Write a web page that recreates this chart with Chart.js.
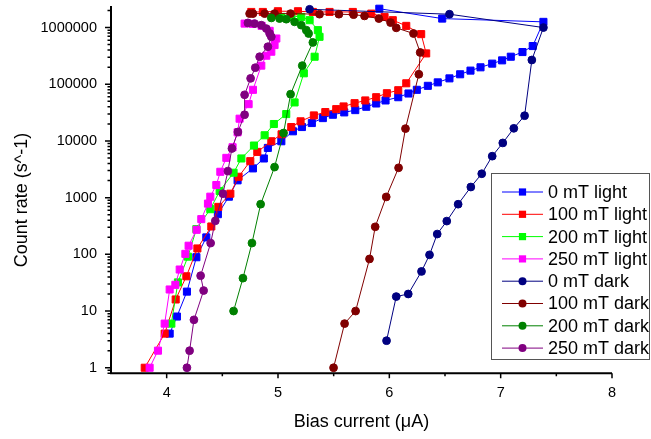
<!DOCTYPE html>
<html>
<head>
<meta charset="utf-8">
<script src="https://cdn.jsdelivr.net/npm/chart.js@4.4.0/dist/chart.umd.min.js"></script>
<style>
  body { margin: 0; background: #fff; }
  #wrap { width: 651px; height: 439px; }
</style>
</head>
<body>
<div id="wrap"><canvas id="mycanvas" width="651" height="439"></canvas></div>
<script>
// bias current (uA) and count rate (s^-1) for each curve
var light0X = [4.027, 4.092, 4.182, 4.267, 4.356, 4.46, 4.559, 4.637, 4.775, 4.873, 4.909, 5.03, 5.134, 5.215, 5.304, 5.403, 5.493, 5.595, 5.694, 5.793, 5.882, 5.966, 6.08, 6.172, 6.247, 6.346, 6.435, 6.54, 6.636, 6.729, 6.819, 6.924, 7.013, 7.091, 7.196, 7.288, 7.384, 6.475, 5.91];
var light0Y = [4, 8, 22, 89, 199, 511, 1040, 2020, 3280, 4910, 7540, 9880, 14800, 17600, 20700, 25300, 29000, 31900, 35000, 40100, 45800, 51800, 59100, 68700, 79800, 93800, 108000, 127000, 150000, 174000, 199000, 231000, 264000, 306000, 370000, 472000, 1260000, 1440000, 2150000];

var light100X = [3.803, 3.982, 4.081, 4.177, 4.276, 4.401, 4.464, 4.572, 4.646, 4.751, 4.814, 4.94, 5.032, 5.119, 5.203, 5.322, 5.425, 5.523, 5.589, 5.688, 5.784, 5.882, 5.978, 6.08, 6.152, 6.331, 6.286, 6.152, 6.031, 5.957, 5.838, 5.672, 5.463, 5.313, 5.179, 4.999, 4.864, 4.76];
var light100Y = [1, 4, 16, 41, 127, 310, 687, 1175, 2335, 4400, 6410, 9880, 13100, 17600, 22200, 28200, 32300, 36400, 40600, 46400, 51800, 59100, 69500, 78500, 104000, 350000, 766000, 1071000, 1349000, 1541000, 1761000, 1885000, 1885000, 1885000, 1940000, 1940000, 1885000, 1885000];

var light200X = [4.042, 4.101, 4.191, 4.267, 4.392, 4.476, 4.601, 4.671, 4.784, 4.88, 4.963, 5.074, 5.149, 5.232, 5.329, 5.373, 5.358, 5.284, 5.209, 5.119, 5.03];
var light200Y = [6, 32, 91, 279, 626, 1310, 2750, 4910, 8300, 12600, 19900, 29800, 47800, 156000, 306000, 687000, 900000, 1349000, 1541000, 1604000, 1541000];

var light250X = [3.847, 3.922, 3.982, 4.027, 4.078, 4.117, 4.168, 4.197, 4.269, 4.311, 4.371, 4.392, 4.446, 4.482, 4.536, 4.592, 4.637, 4.655, 4.736, 4.775, 4.85, 4.895, 4.94, 4.969, 4.985, 4.925, 4.853, 4.772, 4.70];
var light250Y = [1, 2, 6, 24, 29, 54, 102, 142, 271, 418, 785, 1040, 1670, 2860, 5030, 7750, 14200, 24700, 44600, 79800, 213000, 319000, 375000, 491000, 641000, 875000, 1071000, 1161000, 1175000];

var dark0X = [5.975, 6.062, 6.17, 6.289, 6.361, 6.43, 6.516, 6.618, 6.732, 6.83, 6.924, 7.019, 7.118, 7.215, 7.28, 7.384, 6.54, 5.284];
var dark0Y = [3, 18, 20, 50, 98, 228, 386, 766, 1540, 2640, 5390, 9230, 16700, 27900, 268000, 1000000, 1720000, 2100000];

var dark100X = [5.499, 5.598, 5.697, 5.822, 5.873, 5.972, 6.083, 6.145, 6.265, 6.277, 6.217, 6.062, 6.011, 5.906, 5.777, 5.679, 5.547, 5.373, 5.113, 4.969, 4.88, 4.775, 4.745];
var dark100Y = [1, 6, 10, 83, 306, 1030, 3360, 16500, 150000, 364000, 785000, 988000, 1224000, 1440000, 1604000, 1690000, 1720000, 1720000, 1761000, 1761000, 1761000, 1761000, 1761000];

var dark200X = [4.601, 4.685, 4.766, 4.844, 4.969, 5.05, 5.113, 5.218, 5.313, 5.275, 5.254, 5.209, 5.149, 5.074, 5.014, 4.94];
var dark200Y = [10, 38, 158, 766, 3460, 13800, 66800, 213000, 546000, 785000, 900000, 1102000, 1260000, 1404000, 1440000, 1479000];

var dark250X = [4.182, 4.206, 4.245, 4.332, 4.305, 4.395, 4.437, 4.505, 4.55, 4.586, 4.64, 4.70, 4.70, 4.754, 4.796, 4.835, 4.909, 4.94, 4.925, 4.895, 4.85, 4.79, 4.73];
var dark250Y = [1, 2, 7, 23, 42, 158, 390, 1175, 2940, 7360, 14400, 29000, 65200, 127000, 196000, 306000, 459000, 687000, 785000, 960000, 1102000, 1175000, 1208000];

var seriesNames = ['0 mT light', '100 mT light', '200 mT light', '250 mT light', '0 mT dark', '100 mT dark', '200 mT dark', '250 mT dark'];
var xTickValues = [4, 5, 6, 7, 8];
var yTickValues = [1, 10, 100, 1000, 10000, 100000, 1000000];

var allX = [light0X, light100X, light200X, light250X, dark0X, dark100X, dark200X, dark250X];
var allY = [light0Y, light100Y, light200Y, light250Y, dark0Y, dark100Y, dark200Y, dark250Y];
var colors = ['#0000ff', '#ff0000', '#00ff00', '#ff00ff', '#000080', '#800000', '#008000', '#800080'];
var markers = ['rect', 'rect', 'rect', 'rect', 'circle', 'circle', 'circle', 'circle'];

Chart.defaults.font.family = "'Liberation Sans', Arial, sans-serif";
Chart.defaults.color = '#000';

var datasets = [];
for (var i = 0; i < seriesNames.length; i++) {
  var pts = [];
  for (var j = 0; j < allX[i].length; j++) {
    pts.push({x: allX[i][j], y: allY[i][j]});
  }
  datasets.push({
    label: seriesNames[i],
    data: pts,
    showLine: true,
    borderColor: colors[i],
    backgroundColor: colors[i],
    pointBackgroundColor: colors[i],
    pointBorderColor: colors[i],
    borderWidth: 1,
    pointStyle: markers[i],
    pointRadius: markers[i] == 'rect' ? 5 : 3.9,
    pointBorderWidth: 1,
    tension: 0,
    clip: false,
    order: seriesNames.length - i
  });
}

function drawMarker(ctx, style, cx, cy, color) {
  ctx.fillStyle = color;
  if (style == 'rect') {
    ctx.fillRect(cx - 3.6, cy - 3.6, 7.2, 7.2);
  } else {
    ctx.beginPath();
    ctx.arc(cx, cy, 4, 0, Math.PI * 2);
    ctx.fill();
  }
}

// axes lines, minor ticks, y title and the boxed legend
var decor = {
  id: 'decor',
  afterDraw: function(chart) {
    var ctx = chart.ctx;
    var xs = chart.scales.x, ys = chart.scales.y, a = chart.chartArea;
    ctx.save();
    ctx.strokeStyle = '#000';
    ctx.lineWidth = 2;
    ctx.beginPath();
    ctx.moveTo(a.left, a.top);
    ctx.lineTo(a.left, a.bottom);
    ctx.lineTo(a.right, a.bottom);
    ctx.stroke();

    ctx.lineWidth = 1.5;
    ctx.beginPath();
    for (var v = 4; v <= 8.001; v += 0.5) {
      var px = xs.getPixelForValue(v);
      var len = (Math.abs(v - Math.round(v)) < 0.01) ? 5 : 3;
      ctx.moveTo(px, a.bottom);
      ctx.lineTo(px, a.bottom + len);
    }
    for (var d = 0.1; d <= 1e6; d *= 10) {
      for (var k = 1; k <= 9; k++) {
        var val = d * k;
        if (val < ys.min || val > ys.max) continue;
        var py = ys.getPixelForValue(val);
        var l = (k == 1) ? 6 : 3.5;
        ctx.moveTo(a.left, py);
        ctx.lineTo(a.left - l, py);
      }
    }
    ctx.stroke();

    ctx.fillStyle = '#000';
    ctx.font = "18px 'Liberation Sans', Arial, sans-serif";
    ctx.textAlign = 'center';
    ctx.textBaseline = 'middle';
    ctx.translate(21.7, 200);
    ctx.rotate(-Math.PI / 2);
    ctx.fillText('Count rate (s^-1)', 0, 0);
    ctx.restore();

    ctx.save();
    ctx.strokeStyle = '#555';
    ctx.lineWidth = 1;
    ctx.strokeRect(491.5, 173.5, 158, 186);
    ctx.font = "18px 'Liberation Sans', Arial, sans-serif";
    ctx.textBaseline = 'middle';
    ctx.textAlign = 'left';
    for (var n = 0; n < seriesNames.length; n++) {
      var y = 192 + n * 22.3;
      ctx.strokeStyle = colors[n];
      ctx.beginPath();
      ctx.moveTo(502, y);
      ctx.lineTo(543, y);
      ctx.stroke();
      drawMarker(ctx, markers[n], 522.5, y, colors[n]);
      ctx.fillStyle = '#000';
      ctx.fillText(seriesNames[n], 548, y + 1);
    }
    ctx.restore();
  }
};

var ctx = document.getElementById('mycanvas');
var chart = new Chart(ctx, {
  type: 'scatter',
  data: { datasets: datasets },
  options: {
    responsive: false,
    animation: false,
    layout: { padding: { left: 0, top: 4, right: 39, bottom: 0 } },
    plugins: {
      legend: { display: false },
      tooltip: { enabled: false }
    },
    scales: {
      x: {
        type: 'linear',
        min: 3.5,
        max: 8,
        afterBuildTicks: function(s) {
          s.ticks = xTickValues.map(function(v) { return {value: v}; });
        },
        afterFit: function(s) {
          s.height = 65.7;
          s.paddingLeft = 0;
          s.paddingRight = 0;
        },
        grid: { display: false, drawTicks: false },
        border: { display: false },
        ticks: { font: { size: 14.5 }, color: '#000', padding: 10.5, maxRotation: 0, autoSkip: false },
        title: { display: true, text: 'Bias current (\u03bcA)', font: { size: 18 }, color: '#000', padding: { top: 0, bottom: 6.5 } }
      },
      y: {
        type: 'logarithmic',
        min: 0.798,
        max: 2400000,
        afterBuildTicks: function(s) {
          s.ticks = yTickValues.map(function(v) { return {value: v}; });
        },
        afterFit: function(s) {
          s.width = 111;
          s.paddingTop = 0;
          s.paddingBottom = 0;
        },
        grid: { display: false, drawTicks: false },
        border: { display: false },
        ticks: {
          font: { size: 14.5 }, color: '#000', padding: 14, autoSkip: false,
          callback: function(value) { return String(value); }
        }
      }
    }
  },
  plugins: [decor]
});
</script>
</body>
</html>
